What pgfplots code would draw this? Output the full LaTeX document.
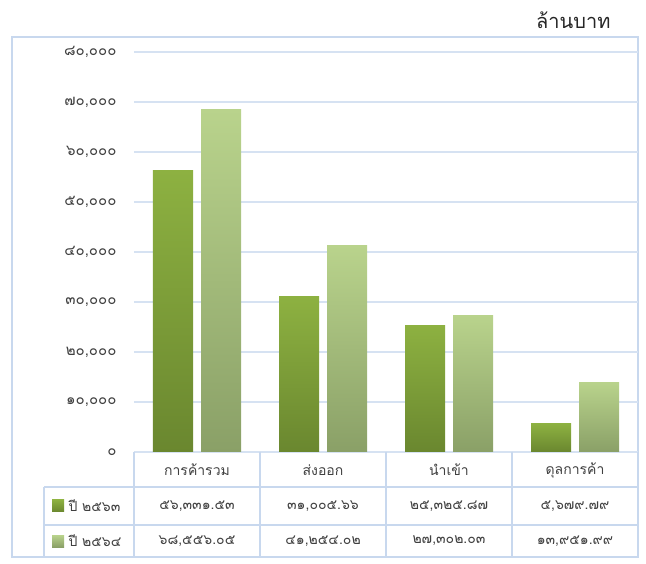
\documentclass[border=0pt]{standalone}
\usepackage{pgfplots}
\pgfplotsset{compat=1.18}
\usepackage{fontspec}
\newfontfamily\thaifont[Script=Thai]{Loma}
\definecolor{gridc}{HTML}{D6E2F2}
\definecolor{framec}{HTML}{C8D8EE}
\definecolor{dtop}{HTML}{8DB141}
\definecolor{dbot}{HTML}{6A872F}
\definecolor{ltop}{HTML}{B9D38C}
\definecolor{lbot}{HTML}{8AA067}
\definecolor{txt}{HTML}{404040}

\begin{document}
\begin{tikzpicture}[x=1pt,y=1pt]
\path[use as bounding box] (0,0) rectangle (646,563);
\draw[framec, line width=1.2pt] (12,6) rectangle (638,526);
\begin{axis}[
  at={(134pt,111pt)}, anchor=south west,
  width=504pt, height=400pt, scale only axis,
  xmin=-0.5, xmax=3.5, ymin=0, ymax=80000,
  axis line style={draw=none},
  xtick=\empty,
  scaled y ticks=false,
  ytick={0,10000,20000,30000,40000,50000,60000,70000,80000},
  yticklabels={๐,{๑๐,๐๐๐},{๒๐,๐๐๐},{๓๐,๐๐๐},{๔๐,๐๐๐},{๕๐,๐๐๐},{๖๐,๐๐๐},{๗๐,๐๐๐},{๘๐,๐๐๐}},
  ymajorgrids, grid style={gridc, line width=1.2pt},
  major tick length=0pt,
  yticklabel style={font=\thaifont\fontsize{15}{17}\selectfont, text=txt, anchor=east, xshift=-14pt},
  ybar, bar width=40pt,
  clip=false,
]
% year 2563 (dark)
\addplot[draw=none, top color=dtop, bottom color=dbot, bar shift=-24pt] coordinates {(0,56331.53)};
\addplot[draw=none, top color=dtop, bottom color=dbot, bar shift=-24pt] coordinates {(1,31005.66)};
\addplot[draw=none, top color=dtop, bottom color=dbot, bar shift=-24pt] coordinates {(2,25325.87)};
\addplot[draw=none, top color=dtop, bottom color=dbot, bar shift=-24pt] coordinates {(3,5679.79)};
% year 2564 (light)
\addplot[draw=none, top color=ltop, bottom color=lbot, bar shift=24pt] coordinates {(0,68556.05)};
\addplot[draw=none, top color=ltop, bottom color=lbot, bar shift=24pt] coordinates {(1,41254.02)};
\addplot[draw=none, top color=ltop, bottom color=lbot, bar shift=24pt] coordinates {(2,27302.03)};
\addplot[draw=none, top color=ltop, bottom color=lbot, bar shift=24pt] coordinates {(3,13951.99)};
\end{axis}
% data table
\begin{scope}[framec, line width=1.2pt]
\draw (134,111) -- (134,6);
\draw (260,111) -- (260,6);
\draw (386,111) -- (386,6);
\draw (512,111) -- (512,6);
\draw (638,111) -- (638,6);
\draw (44,76) -- (638,76);
\draw (44,38) -- (638,38);
\draw (44,76) -- (44,6);
\end{scope}
\begin{scope}[font=\thaifont\fontsize{14}{16}\selectfont, text=txt]
\node at (197,93) {การค้ารวม};
\node at (323,93) {ส่งออก};
\node at (449,93) {นำเข้า};
\node at (575,93) {ดุลการค้า};
\end{scope}
\begin{scope}[font=\thaifont\fontsize{14}{16}\selectfont, text=txt]
\node at (197,57) {๕๖,๓๓๑.๕๓};
\node at (323,57) {๓๑,๐๐๕.๖๖};
\node at (449,57) {๒๕,๓๒๕.๘๗};
\node at (575,57) {๕,๖๗๙.๗๙};
\node at (197,22) {๖๘,๕๕๖.๐๕};
\node at (323,22) {๔๑,๒๕๔.๐๒};
\node at (449,22) {๒๗,๓๐๒.๐๓};
\node at (575,22) {๑๓,๙๕๑.๙๙};
\node[anchor=west] at (65,57) {ปี ๒๕๖๓};
\node[anchor=west] at (65,22) {ปี ๒๕๖๔};
\end{scope}
\shade[top color=dtop, bottom color=dbot] (52,51) rectangle (64,63);
\shade[top color=ltop, bottom color=lbot] (52,16) rectangle (64,28);
\node[font=\thaifont\fontsize{20}{22}\selectfont, text=black!85, anchor=east] at (614,543) {ล้านบาท};
\end{tikzpicture}
\end{document}
